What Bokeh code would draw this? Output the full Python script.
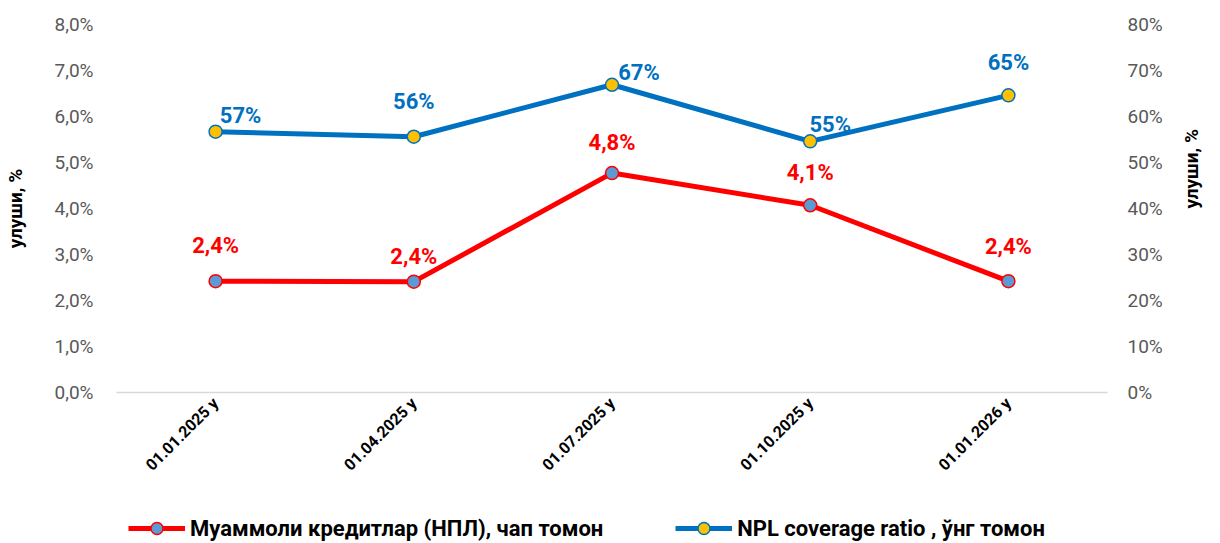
import math
from bokeh.plotting import figure
from bokeh.layouts import column
from bokeh.models import (FactorRange, Range1d, LinearAxis, FixedTicker,
                          Legend, LegendItem)
from bokeh.embed import file_html
from bokeh.resources import INLINE
from bokeh.core.properties import value

# ---------------- data ----------------
dates = ["01.01.2025 у", "01.04.2025 у", "01.07.2025 у", "01.10.2025 у", "01.01.2026 у"]
npl = [2.42, 2.41, 4.77, 4.07, 2.42]            # left axis, %
coverage = [56.7, 55.6, 66.9, 54.6, 64.6]       # right axis, %
left_ticks = [0, 1, 2, 3, 4, 5, 6, 7, 8]
left_tick_labels = ["0,0%", "1,0%", "2,0%", "3,0%", "4,0%", "5,0%", "6,0%", "7,0%", "8,0%"]
right_ticks = [0, 10, 20, 30, 40, 50, 60, 70, 80]
right_tick_labels = ["0%", "10%", "20%", "30%", "40%", "50%", "60%", "70%", "80%"]
series_names = ["Муаммоли кредитлар (НПЛ), чап томон", "NPL coverage ratio , ўнг томон"]
axis_title = "улуши, %"

npl_labels = [f"{v:.1f}".replace(".", ",") + "%" for v in npl]
cov_labels = [f"{v:.0f}%" for v in coverage]

# label offsets (layout, screen px)
npl_dx = [0, 0, 0, 0, 0]
npl_dy = [-36, -25, -31, -33, -35]
cov_dx = [25, 0, 27, 20, 0]
cov_dy = [-16, -35, -12, -17, -33]

FONT = "Roboto"
RED = "#FF0000"
BLUE = "#0070C0"
RED_MARK = "#5B9BD5"
BLUE_MARK = "#FFC000"

W = 1220
H_MAIN = 495
H_LEG = 48

p = figure(x_range=FactorRange(*dates), y_range=Range1d(0, 8),
           width=W, height=H_MAIN, output_backend="svg", toolbar_location=None,
           min_border_left=116, min_border_right=W - 1107, min_border_top=24,
           min_border_bottom=H_MAIN - 392)
p.extra_y_ranges = {"right": Range1d(0, 80)}
p.outline_line_color = None
p.xgrid.visible = False
p.ygrid.visible = False

# left axis
ya = p.yaxis[0]
ya.ticker = FixedTicker(ticks=left_ticks)
ya.major_label_overrides = dict(zip(left_ticks, left_tick_labels))
ya.axis_line_color = None
ya.major_tick_line_color = None
ya.minor_tick_line_color = None
ya.major_tick_out = 0
ya.major_tick_in = 0
ya.major_label_text_font = FONT
ya.major_label_text_font_size = "19px"
ya.major_label_text_color = "#595959"
ya.major_label_standoff = 23
ya.axis_label = axis_title
ya.axis_label_text_font = FONT
ya.axis_label_text_font_style = "bold"
ya.axis_label_text_font_size = "19px"
ya.axis_label_text_color = "black"
ya.axis_label_standoff = 24

# right axis
ra = LinearAxis(y_range_name="right", ticker=FixedTicker(ticks=right_ticks))
ra.major_label_overrides = dict(zip(right_ticks, right_tick_labels))
ra.axis_line_color = None
ra.major_tick_line_color = None
ra.minor_tick_line_color = None
ra.major_tick_out = 0
ra.major_tick_in = 0
ra.major_label_text_font = FONT
ra.major_label_text_font_size = "19px"
ra.major_label_text_color = "#595959"
ra.major_label_standoff = 20
ra.axis_label = axis_title
ra.axis_label_text_font = FONT
ra.axis_label_text_font_style = "bold"
ra.axis_label_text_font_size = "19px"
ra.axis_label_text_color = "black"
ra.axis_label_standoff = 26
if "axis_label_orientation" in ra.properties():
    ra.axis_label_orientation = math.pi / 2
p.add_layout(ra, "right")

# x axis
xa = p.xaxis[0]
xa.axis_line_color = "#D9D9D9"
xa.axis_line_width = 1.5
xa.major_tick_line_color = None
xa.minor_tick_line_color = None
xa.major_tick_out = 0
xa.major_tick_in = 0
xa.major_label_orientation = math.pi / 4
xa.major_label_text_font = FONT
xa.major_label_text_font_style = "bold"
xa.major_label_text_font_size = "16px"
xa.major_label_text_color = "black"
xa.major_label_standoff = 8

# series
p.line(dates, npl, line_color=RED, line_width=5)
p.scatter(dates, npl, size=13, fill_color=RED_MARK, line_color=RED, line_width=1.5)
p.line(dates, coverage, line_color=BLUE, line_width=5, y_range_name="right")
p.scatter(dates, coverage, size=13, fill_color=BLUE_MARK, line_color=BLUE,
          line_width=1.5, y_range_name="right")

p.text(x=dates, y=npl, text=npl_labels, x_offset=npl_dx, y_offset=npl_dy,
       text_align="center", text_baseline="middle", text_color=RED,
       text_font=value(FONT), text_font_style="bold", text_font_size="22px")
p.text(x=dates, y=coverage, text=cov_labels, x_offset=cov_dx, y_offset=cov_dy,
       text_align="center", text_baseline="middle", text_color=BLUE,
       text_font=value(FONT), text_font_style="bold", text_font_size="22px",
       y_range_name="right")

# legend strip (separate figure so it is not clipped by the main plot frame);
# its sample renderers carry the series but sit outside this strip's ranges
lg = figure(width=W, height=H_LEG, output_backend="svg", toolbar_location=None,
            x_axis_location=None, y_axis_location=None,
            x_range=Range1d(-10, -9), y_range=Range1d(-10, -9),
            min_border=0, outline_line_color=None)
lg.xgrid.visible = False
lg.ygrid.visible = False
idx = list(range(len(dates)))
k1l = lg.line(idx, npl, line_color=RED, line_width=5)
k1m = lg.scatter(idx, npl, size=13, fill_color=RED_MARK, line_color=RED, line_width=1.5)
k2l = lg.line(idx, coverage, line_color=BLUE, line_width=5)
k2m = lg.scatter(idx, coverage, size=13, fill_color=BLUE_MARK, line_color=BLUE,
                 line_width=1.5)

legend = Legend(items=[LegendItem(label=series_names[0], renderers=[k1l, k1m]),
                       LegendItem(label=series_names[1], renderers=[k2l, k2m])],
                location=(12, 0), orientation="horizontal",
                glyph_width=57, glyph_height=30, label_height=30,
                label_standoff=5, spacing=72, padding=0, margin=0,
                border_line_color=None, background_fill_alpha=0,
                label_text_font=FONT, label_text_font_style="bold",
                label_text_font_size="22px", label_text_color="black",
                label_text_baseline="middle")
lg.add_layout(legend, "center")

open("out.html", "w").write(file_html(column(p, lg), INLINE))
